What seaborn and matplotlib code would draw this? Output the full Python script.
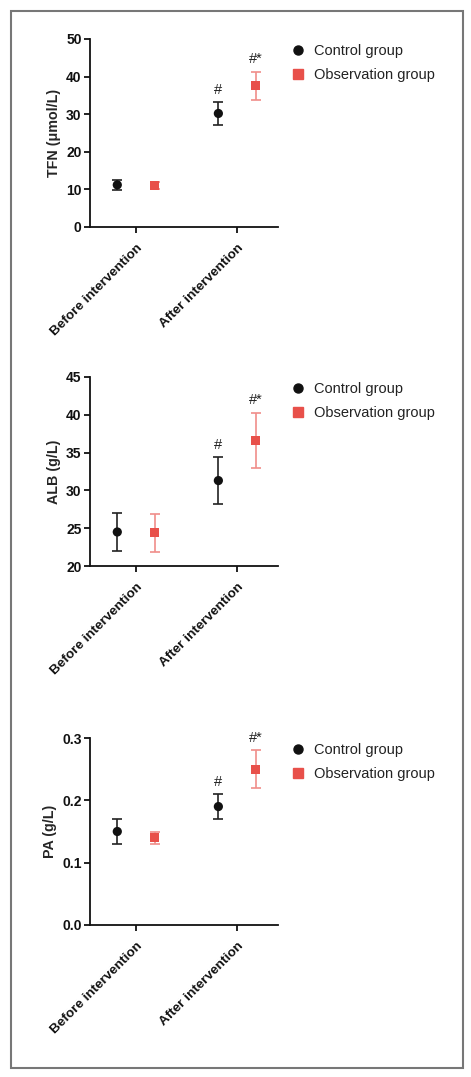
import matplotlib
matplotlib.use("Agg")
import matplotlib.pyplot as plt
import seaborn as sns
import numpy as np
import pandas as pd
from matplotlib.patches import Rectangle
from matplotlib.lines import Line2D

sns.set_theme(style="ticks")
plt.rcParams['font.family'] = ['Liberation Sans', 'DejaVu Sans']

categories = ["Before intervention", "After intervention"]
groups = ["Control group", "Observation group"]

tfn_mean = {"Control group": [11.2, 30.2], "Observation group": [11.0, 37.6]}
tfn_sd = {"Control group": [1.3, 3.0], "Observation group": [1.0, 3.7]}
alb_mean = {"Control group": [24.5, 31.3], "Observation group": [24.4, 36.6]}
alb_sd = {"Control group": [2.5, 3.1], "Observation group": [2.5, 3.65]}
pa_mean = {"Control group": [0.15, 0.19], "Observation group": [0.14, 0.25]}
pa_sd = {"Control group": [0.02, 0.02], "Observation group": [0.01, 0.03]}

annotations = {"Control group": ["", "#"], "Observation group": ["", "#*"]}

panels = [
    ("TFN (μmol/L)", tfn_mean, tfn_sd, (0, 50), [0, 10, 20, 30, 40, 50], "{:.0f}"),
    ("ALB (g/L)", alb_mean, alb_sd, (20, 45), [20, 25, 30, 35, 40, 45], "{:.0f}"),
    ("PA (g/L)", pa_mean, pa_sd, (0, 0.3), [0.0, 0.1, 0.2, 0.3], "{:.1f}"),
]

W, H = 471, 1077
fig = plt.figure(figsize=(W / 100, H / 100), dpi=100)
fig.patch.set_facecolor("white")

axes_px = [(39, 227), (377, 566), (738, 925)]
ax_left, ax_right = 90, 278

colors = {"Control group": "#111111", "Observation group": "#e8504a"}
ecolors = {"Control group": "#222222", "Observation group": "#f08e8a"}
markers = {"Control group": "o", "Observation group": "s"}
offsets = {"Control group": -0.185, "Observation group": 0.185}

for (ylabel, means, sds, ylim, yticks, fmt), (top, bot) in zip(panels, axes_px):
    ax = fig.add_axes([ax_left / W, 1 - bot / H, (ax_right - ax_left) / W, (bot - top) / H])
    rows = []
    for g in groups:
        for i, c in enumerate(categories):
            rows.append({"group": g, "category": c, "pos": i + offsets[g],
                         "mean": means[g][i], "sd": sds[g][i], "ann": annotations[g][i]})
    df = pd.DataFrame(rows)
    for g in groups:
        d = df[df.group == g]
        ax.errorbar(d["pos"], d["mean"], yerr=d["sd"], fmt="none", ecolor=ecolors[g],
                    elinewidth=1.2, capsize=3.5, capthick=1.2, zorder=2)
    sns.scatterplot(data=df, x="pos", y="mean", hue="group", style="group",
                    palette=colors, markers=markers, s=44, linewidth=0,
                    ax=ax, legend=False, zorder=3)
    for _, r in df.iterrows():
        if r["ann"]:
            ax.annotate(r["ann"], (r["pos"], r["mean"] + r["sd"]), xytext=(0, 4),
                        textcoords="offset points", ha="center", va="bottom",
                        fontsize=10.5, color="#222222")
    ax.set_xlim(-0.455, 1.405)
    ax.set_ylim(*ylim)
    ax.set_yticks(yticks)
    ax.set_yticklabels([fmt.format(v) for v in yticks], fontweight="bold", fontsize=10)
    ax.set_xticks(range(len(categories)))
    ax.set_xticklabels(categories, rotation=45, ha="right", rotation_mode="anchor",
                       fontweight="bold", fontsize=9.7)
    ax.set_xlabel("")
    ax.set_ylabel(ylabel, fontweight="bold", fontsize=10.3, labelpad=3.5)
    sns.despine(ax=ax)
    for s in ["left", "bottom"]:
        ax.spines[s].set_linewidth(1.3)
        ax.spines[s].set_color("#111111")
    ax.tick_params(axis="both", direction="out", length=4, width=1.3, color="#111111",
                   labelcolor="#111111", pad=2)
    ax.tick_params(axis="x", pad=7)
    handles = [Line2D([], [], marker=markers[g], color=colors[g], linestyle="none",
                      markersize=6.5) for g in groups]
    ax.legend(handles, groups, loc="upper left", bbox_to_anchor=(1.069, 0.975),
              frameon=False, fontsize=10.5, handlelength=1.0, handletextpad=0.55,
              borderaxespad=0, borderpad=0, labelspacing=0.7, labelcolor="#222222")

fig.add_artist(Rectangle((11 / W, 1 - 1068 / H), (463 - 11) / W, (1068 - 11) / H,
                         transform=fig.transFigure, fill=False, edgecolor="#777777",
                         linewidth=1.5))

fig.savefig("out.png", dpi=100, facecolor="white")
